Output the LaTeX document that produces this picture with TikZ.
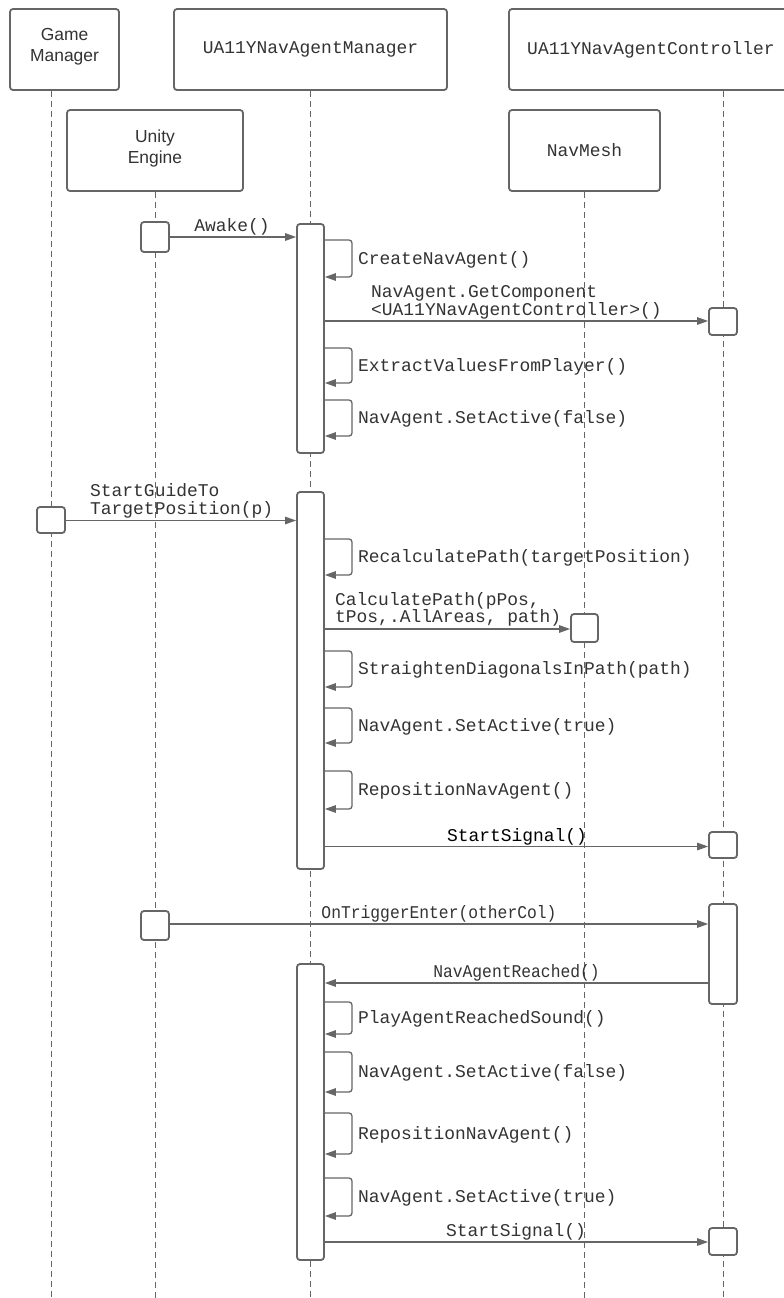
\documentclass[tikz,border=0pt]{standalone}
\usepackage{fontspec}
\setmainfont{Liberation Sans}
\newfontfamily\monof{Liberation Mono}
\newfontfamily\monocond[FakeStretch=0.91]{Liberation Mono}
\usetikzlibrary{arrows.meta}
\definecolor{ln}{HTML}{666666}
\definecolor{tx}{HTML}{333333}
\tikzset{
 hdr/.style={draw=ln, line width=1.8bp, rounded corners=3bp, fill=white, inner sep=0pt, text=tx, align=center},
 sanstxt/.style={font=\fontsize{17.5}{21}\selectfont, text depth=8.5bp},
 monotxt/.style={font=\monof\fontsize{18}{18}\selectfont},
 act/.style={draw=ln, line width=1.8bp, rounded corners=3bp, fill=white, inner sep=0pt, minimum width=27bp},
 life/.style={draw=ln, line width=1bp, dash pattern=on 6bp off 4bp},
 msg/.style={draw=ln, line width=1.3bp, -{Triangle[length=11bp,width=7.5bp]}},
 lbl/.style={inner sep=0pt, text=tx, font=\monof\fontsize{18}{18}\selectfont, text height=11.8bp, text depth=0pt},
 lblc/.style={lbl, font=\monocond\fontsize{18}{18}\selectfont},
}
\newcommand\selfmsg[5]{%
 \draw[msg, rounded corners=3bp] (#1.east |- 0,#2) -- (352,#2) -- (352,#3) -- (#1.east |- 0,#3);
 \node[lbl, anchor=west] (#5) at (358,{(#2+#3)/2}) {#4};}
\begin{document}
\begin{tikzpicture}[x=1bp, y=-1bp]
\fill[white] (0,0) rectangle (784,1298);
\useasboundingbox (0,0) rectangle (784,1298);
% headers
\node[hdr, sanstxt, minimum width=109bp, minimum height=81bp] (gm) at (64.5,49.5) {Game\\Manager};
\node[hdr, monotxt, minimum width=273bp, minimum height=81bp] (mgr) at (310.5,49.5) {UA11YNavAgentManager};
\node[hdr, monotxt, minimum width=284bp, minimum height=81bp] (ctl) at (651,49.5) {UA11YNavAgentController};
\node[hdr, sanstxt, minimum width=176bp, minimum height=81bp] (ue) at (155,150.5) {Unity\\Engine};
\node[hdr, monotxt, minimum width=151bp, minimum height=81bp] (nm) at (584.5,150.5) {NavMesh};
% lifelines
\coordinate (gmend) at (51,1298);
\coordinate (ueend) at (155,1298);
\coordinate (mgrend) at (310.5,1298);
\coordinate (nmend) at (584.5,1298);
\coordinate (ctlend) at (723,1298);
\draw[life] (gm.south -| gmend) -- (gmend);
\draw[life] (ue.south) -- (ueend);
\draw[life] (mgr.south) -- (mgrend);
\draw[life] (nm.south) -- (nmend);
\draw[life] (ctl.south -| ctlend) -- (ctlend);
% activations
\node[act, minimum width=28bp, minimum height=30bp] (u1) at (155,237) {};
\node[act, minimum height=229bp] (m1) at (310.5,338.5) {};
\node[act, minimum width=28bp, minimum height=27bp] (c1) at (723,321.5) {};
\node[act, minimum width=28bp, minimum height=26bp] (g1) at (51,520) {};
\node[act, minimum height=377bp] (m2) at (310.5,680.5) {};
\node[act, minimum height=28bp] (n1) at (584.5,628) {};
\node[act, minimum width=28bp, minimum height=26bp] (c2) at (723,845) {};
\node[act, minimum width=28bp, minimum height=29bp] (u2) at (155,925.5) {};
\node[act, minimum width=28bp, minimum height=100bp] (c3) at (723,954) {};
\node[act, minimum height=296bp] (m3) at (310.5,1112) {};
\node[act, minimum width=28bp, minimum height=27bp] (c4) at (723,1241.5) {};
% group 1
\draw[msg] (u1.east) -- (u1.east -| m1.west);
\node[lbl] (l1) at (232,226) {Awake()};
\selfmsg{m1}{240}{277}{CreateNavAgent()}{l2}
\draw[msg] (m1.east |- 0,321) -- (c1.west |- 0,321);
\node[lbl, anchor=west] (l3a) at (371,292) {NavAgent.GetComponent};
\node[lbl, anchor=west] (l3b) at (371,310) {<UA11YNavAgentController>()};
\selfmsg{m1}{348}{383}{ExtractValuesFromPlayer()}{l4}
\selfmsg{m1}{400}{436}{NavAgent.SetActive(false)}{l5}
% group 2
\draw[msg] (g1.east |- 0,520.5) -- (m2.west |- 0,520.5);
\node[lbl, anchor=west] (l6a) at (90,491) {StartGuideTo};
\node[lbl, anchor=west] (l6b) at (90,509) {TargetPosition(p)};
\selfmsg{m2}{539}{575}{RecalculatePath(targetPosition)}{l7}
\draw[msg] (m2.east |- 0,629) -- (n1.west |- 0,629);
\node[lbl, anchor=west] (l8a) at (335,600) {CalculatePath(pPos,};
\node[lbl, anchor=west] (l8b) at (335,617) {tPos,.AllAreas, path)};
\selfmsg{m2}{651}{687}{StraightenDiagonalsInPath(path)}{l9}
\selfmsg{m2}{708}{743}{NavAgent.SetActive(true)}{l10}
\selfmsg{m2}{771}{809}{RepositionNavAgent()}{l11}
\draw[msg] (m2.east |- 0,846.5) -- (c2.west |- 0,846.5);
\node[lbl, text=black] (l12) at (517,836) {StartSignal()};
% group 3
\draw[msg] (u2.east |- 0,924) -- (c3.west |- 0,924);
\node[lblc] (l13) at (439,913) {OnTriggerEnter(otherCol)};
\draw[msg] (c3.west |- 0,983) -- (m3.east |- 0,983);
\node[lblc] (l14) at (516.5,972) {NavAgentReached()};
\selfmsg{m3}{1002}{1034}{PlayAgentReachedSound()}{l15}
\selfmsg{m3}{1052}{1092}{NavAgent.SetActive(false)}{l16}
\selfmsg{m3}{1113}{1154}{RepositionNavAgent()}{l17}
\selfmsg{m3}{1178}{1216}{NavAgent.SetActive(true)}{l18}
\draw[msg] (m3.east |- 0,1242) -- (c4.west |- 0,1242);
\node[lbl] (l19) at (516,1231) {StartSignal()};
\end{tikzpicture}
\end{document}
